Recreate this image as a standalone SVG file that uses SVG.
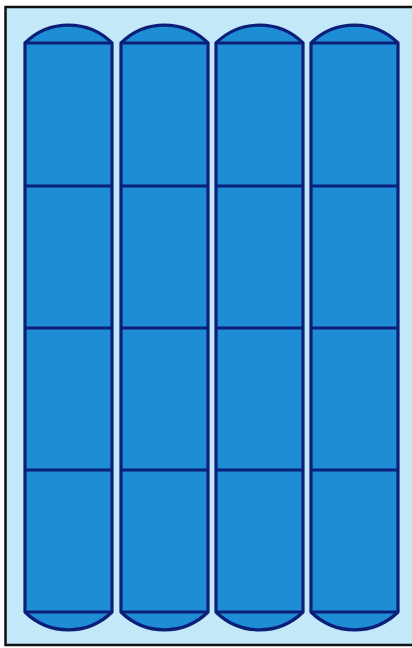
<svg xmlns="http://www.w3.org/2000/svg" width="412" height="648" viewBox="0 0 412 648">
<style>
.col{fill:#1f8dd6;stroke:#0b1f78;stroke-width:3.2;stroke-linejoin:round}
.div{stroke:#0b1f78;stroke-width:3;fill:none}
</style>
<defs>
<g id="column">
<path class="col" d="M0,43 A62,62 0 0 1 87,43 L87,612 A62,62 0 0 1 0,612 Z"/>
<line class="div" x1="0" y1="43" x2="87" y2="43"/>
<line class="div" x1="0" y1="186" x2="87" y2="186"/>
<line class="div" x1="0" y1="328" x2="87" y2="328"/>
<line class="div" x1="0" y1="470" x2="87" y2="470"/>
<line class="div" x1="0" y1="612" x2="87" y2="612"/>
</g>
</defs>
<rect x="0" y="0" width="412" height="648" fill="#ffffff"/>
<rect x="5.5" y="7" width="410" height="638" fill="#c3e8f8" stroke="#111111" stroke-width="2.5"/>
<g id="column1" transform="translate(25,0)"><use href="#column"/></g>
<g id="column2" transform="translate(121,0)"><use href="#column"/></g>
<g id="column3" transform="translate(216,0)"><use href="#column"/></g>
<g id="column4" transform="translate(311,0)"><use href="#column"/></g>
<g id="connectors"/>
</svg>
